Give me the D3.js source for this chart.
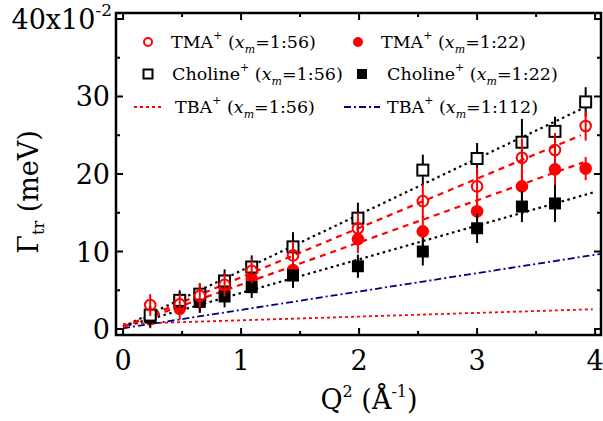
<!DOCTYPE html>
<html><head><meta charset="utf-8">
<script src="https://cdn.jsdelivr.net/npm/d3@7"></script>
<style>
html,body{margin:0;padding:0;background:#fff;}
svg{display:block;font-family:"DejaVu Serif",serif;}
</style></head>
<body><svg id="c" width="603" height="421"></svg>
<script>
// ---- data ----
const q2       = [0.23, 0.48, 0.65, 0.86, 1.09, 1.44, 1.99, 2.54, 3.00, 3.38, 3.66, 3.92];
const tma56    = [3.1, 3.2, 4.3, 5.7, 7.5, 9.5, 13.0, 16.5, 18.4, 22.1, 23.1, 26.2];
const tma56Err = [1.4, 1.4, 1.5, 1.5, 1.6, 1.8, 2.0, 2.2, 2.4, 2.5, 2.2, 1.9];
const tma22    = [1.3, 2.6, 3.6, 5.3, 6.5, 7.6, 11.6, 12.6, 15.2, 18.4, 20.6, 20.7];
const tma22Err = [1.2, 1.4, 1.5, 1.5, 1.5, 1.6, 1.8, 2.0, 2.0, 2.2, 2.1, 1.5];
const chol56    = [1.8, 3.7, 4.5, 6.2, 8.0, 10.6, 14.3, 20.5, 22.0, 24.1, 25.5, 29.3];
const chol56Err = [1.2, 1.3, 1.4, 1.5, 1.5, 1.9, 2.0, 2.0, 2.0, 3.0, 1.9, 1.9];
const chol22    = [1.5, 3.4, 3.5, 4.2, 5.4, 6.9, 8.1, 10.0, 13.0, 15.8, 16.2];
const chol22Err = [1.3, 1.4, 1.4, 1.4, 1.4, 1.6, 1.5, 1.8, 1.9, 2.0, 2.4];
// linear fits (endpoints [Q2, Gamma])
const fitChol56 = [[0, 0.3], [3.90, 28.5]];
const fitTma56  = [[0, 0.3], [3.88, 25.0]];
const fitTma22  = [[0, 0.3], [3.90, 21.5]];
const fitChol22 = [[0, 0.3], [3.98, 17.6]];
const fitTba112 = [[0, 0.1], [4.05, 9.7]];
const fitTba56  = [[0, 0.65], [3.98, 2.55]];
const xTicks = [0, 1, 2, 3, 4];
const xMinor = [0.5, 1.5, 2.5, 3.5];
const yTicks = [0, 10, 20, 30];
const yMinor = [5, 15, 25, 35];
const legendNames = ["TMA", "TMA", "Choline", "Choline", "TBA", "TBA"];
const legendRatios = ["1:56", "1:22", "1:56", "1:22", "1:56", "1:112"];

// ---- layout ----
const L = 116, R = 601, T = 13, B = 335;
const x = d3.scaleLinear().domain([-0.06, 4.05]).range([L, R]);
const y = d3.scaleLinear().domain([-0.77, 40.77]).range([B, T]);
const RED = "#ff0000", NAVY = "#000080";
const svg = d3.select("#c");

svg.append("defs").append("clipPath").attr("id", "clip")
  .append("rect").attr("x", L).attr("y", T).attr("width", R - L).attr("height", B - T);
const plot = svg.append("g").attr("clip-path", "url(#clip)");

const line = d3.line().x(d => x(d[0])).y(d => y(d[1]));
const fits = [
  [fitTba56, RED, 1.8, "3,3"],
  [fitTba112, NAVY, 1.8, "7,3,2,3"],
  [fitChol22, "#000", 2.2, "2.5,3.5"],
  [fitChol56, "#000", 2.2, "2.5,3.5"],
  [fitTma22, RED, 2.2, "6,5"],
  [fitTma56, RED, 2.2, "6,5"]
];
fits.forEach(f => plot.append("path").datum(f[0]).attr("d", line)
  .attr("fill", "none").attr("stroke", f[1]).attr("stroke-width", f[2]).attr("stroke-dasharray", f[3]));

function series(vals, errs, color) {
  const g = plot.append("g");
  g.selectAll("line").data(vals).enter().append("line")
    .attr("x1", (d, i) => x(q2[i])).attr("x2", (d, i) => x(q2[i]))
    .attr("y1", (d, i) => y(d - errs[i])).attr("y2", (d, i) => y(d + errs[i]))
    .attr("stroke", color).attr("stroke-width", 2);
  return g;
}
function squares(g, vals, filled) {
  const s = filled ? 12 : 11;
  g.selectAll("rect").data(vals).enter().append("rect")
    .attr("x", (d, i) => x(q2[i]) - s / 2).attr("y", d => y(d) - s / 2)
    .attr("width", s).attr("height", s)
    .attr("fill", filled ? "#000" : "#fff").attr("stroke", "#000").attr("stroke-width", filled ? 0 : 2);
}
function circles(g, vals, filled) {
  g.selectAll("circle").data(vals).enter().append("circle")
    .attr("cx", (d, i) => x(q2[i])).attr("cy", d => y(d))
    .attr("r", filled ? 6.3 : 5.3)
    .attr("fill", filled ? RED : "none").attr("stroke", RED).attr("stroke-width", filled ? 0 : 2);
}
const gT22 = series(tma22, tma22Err, RED);
circles(gT22, tma22, true);
const gC22 = series(chol22, chol22Err, "#000");
const gC56 = series(chol56, chol56Err, "#000");
squares(gC22, chol22, true);
squares(gC56, chol56, false);
const gT56 = series(tma56, tma56Err, RED);
circles(gT56, tma56, false);

const axes = svg.append("g").attr("stroke", "#000");
const MJ = 7, MN = 4;
xTicks.forEach(v => {
  axes.append("line").attr("x1", x(v)).attr("x2", x(v)).attr("y1", B).attr("y2", B - MJ).attr("stroke-width", 2);
  axes.append("line").attr("x1", x(v)).attr("x2", x(v)).attr("y1", T).attr("y2", T + MJ).attr("stroke-width", 2);
});
xMinor.forEach(v => {
  axes.append("line").attr("x1", x(v)).attr("x2", x(v)).attr("y1", B).attr("y2", B - MN).attr("stroke-width", 2);
  axes.append("line").attr("x1", x(v)).attr("x2", x(v)).attr("y1", T).attr("y2", T + MN).attr("stroke-width", 2);
});
yTicks.concat([40]).forEach(v => {
  axes.append("line").attr("y1", y(v)).attr("y2", y(v)).attr("x1", L).attr("x2", L + MJ).attr("stroke-width", 2);
  axes.append("line").attr("y1", y(v)).attr("y2", y(v)).attr("x1", R).attr("x2", R - MJ).attr("stroke-width", 2);
});
yMinor.forEach(v => {
  axes.append("line").attr("y1", y(v)).attr("y2", y(v)).attr("x1", L).attr("x2", L + MN).attr("stroke-width", 2);
  axes.append("line").attr("y1", y(v)).attr("y2", y(v)).attr("x1", R).attr("x2", R - MN).attr("stroke-width", 2);
});
axes.append("rect").attr("x", L).attr("y", T).attr("width", R - L).attr("height", B - T)
  .attr("fill", "none").attr("stroke-width", 2.5);

const lab = svg.append("g").attr("font-size", 27).attr("fill", "#000");
xTicks.forEach(v => lab.append("text").attr("x", x(v)).attr("y", 370).attr("text-anchor", "middle").text(v));
yTicks.forEach(v => lab.append("text").attr("x", 110).attr("y", y(v) + 10).attr("text-anchor", "end").text(v));
const topLab = lab.append("text").attr("x", 112).attr("y", y(40) + 10).attr("text-anchor", "end");
topLab.append("tspan").text("40x10");
topLab.append("tspan").attr("font-size", 17).attr("dy", -13).text("-2");

const xt = svg.append("text").attr("x", 369).attr("y", 409).attr("text-anchor", "middle").attr("font-size", 27);
xt.append("tspan").text("Q");
xt.append("tspan").attr("font-size", 16).attr("dy", -12).text("2");
xt.append("tspan").attr("dy", 12).text(" (Å");
xt.append("tspan").attr("font-size", 16).attr("dy", -12).text("-1");
xt.append("tspan").attr("dy", 12).text(")");

const yt = svg.append("text").attr("transform", "translate(38,192) rotate(-90)").attr("text-anchor", "middle").attr("font-size", 27);
yt.append("tspan").text("Γ");
yt.append("tspan").attr("font-size", 16).attr("dy", 6).text("tr");
yt.append("tspan").attr("dy", -6).text(" (meV)");

const leg = svg.append("g").attr("font-size", 17.5);
const rowsY = [42, 42, 74, 74, 107, 107];
const symX = [148, 358, 148, 362, 148, 362];
const textX = [171, 381, 172, 387, 175, 387];
legendNames.forEach((nm, i) => {
  const yy = rowsY[i], sx = symX[i];
  if (i === 0) leg.append("circle").attr("cx", sx).attr("cy", yy).attr("r", 4).attr("fill", "none").attr("stroke", RED).attr("stroke-width", 2);
  if (i === 1) leg.append("circle").attr("cx", sx).attr("cy", yy).attr("r", 5).attr("fill", RED);
  if (i === 2) leg.append("rect").attr("x", sx - 4.5).attr("y", yy - 4.5).attr("width", 9).attr("height", 9).attr("fill", "none").attr("stroke", "#000").attr("stroke-width", 2);
  if (i === 3) leg.append("rect").attr("x", sx - 5).attr("y", yy - 5).attr("width", 10).attr("height", 10).attr("fill", "#000");
  if (i === 4) leg.append("line").attr("x1", 134).attr("x2", 164).attr("y1", yy).attr("y2", yy).attr("stroke", RED).attr("stroke-width", 1.8).attr("stroke-dasharray", "3,3");
  if (i === 5) leg.append("line").attr("x1", 344).attr("x2", 380).attr("y1", yy).attr("y2", yy).attr("stroke", NAVY).attr("stroke-width", 1.8).attr("stroke-dasharray", "7,3,2,3");
  const t = leg.append("text").attr("x", textX[i]).attr("y", yy + 6);
  t.append("tspan").text(nm);
  t.append("tspan").attr("font-size", 11).attr("dy", -9).text("+");
  t.append("tspan").attr("dy", 9).text(" (");
  t.append("tspan").attr("font-style", "italic").text("x");
  t.append("tspan").attr("font-size", 11).attr("font-style", "italic").attr("dy", 5).text("m");
  t.append("tspan").attr("dy", -5).text("=" + legendRatios[i] + ")");
});
</script></body></html>
